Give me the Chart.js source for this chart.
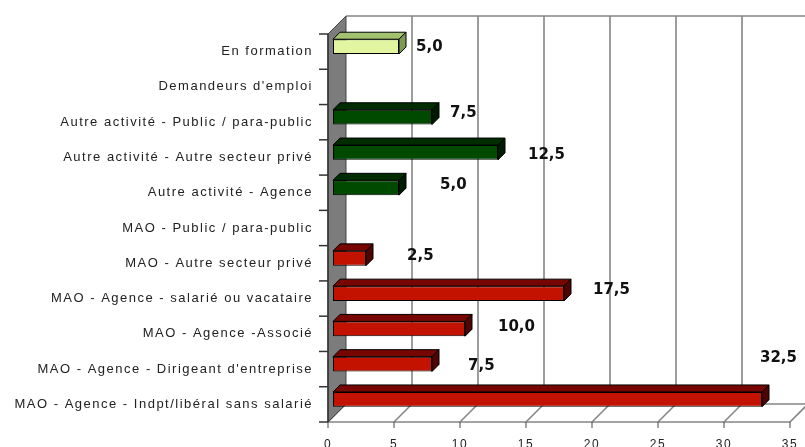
<!DOCTYPE html>
<html>
<head>
<meta charset="utf-8">
<script src="https://cdn.jsdelivr.net/npm/chart.js@4/dist/chart.umd.min.js"></script>
<style>
  html, body { margin: 0; padding: 0; background: #ffffff; }
  #wrap { width: 805px; height: 447px; position: relative; }
</style>
</head>
<body>
<div id="wrap"><canvas id="c" width="805" height="447"></canvas></div>
<script>
// ---------- data ----------
const categories = [
  "En formation",
  "Demandeurs d'emploi",
  "Autre activité - Public / para-public",
  "Autre activité - Autre secteur privé",
  "Autre activité - Agence",
  "MAO - Public / para-public",
  "MAO - Autre secteur privé",
  "MAO - Agence - salarié ou vacataire",
  "MAO - Agence -Associé",
  "MAO - Agence - Dirigeant d'entreprise",
  "MAO - Agence - Indpt/libéral sans salarié"
];
const values = [5.0, null, 7.5, 12.5, 5.0, null, 2.5, 17.5, 10.0, 7.5, 32.5];
const groups = ["formation", "autre", "autre", "autre", "autre", "mao", "mao", "mao", "mao", "mao", "mao"];
const xMin = 0, xMax = 35, xStep = 5;

// ---------- style ----------
const groupFront = { formation: "#e2f6a2", autre: "#004a00", mao: "#c41200" };
const groupTop   = { formation: "#a2c270", autre: "#002c00", mao: "#780600" };
const groupSide  = { formation: "#7c9a52", autre: "#001c00", mao: "#4e0400" };
// value label nudges (px) relative to bar end / bar centre
const labelNudge = [[17,0],[0,0],[18,-4],[30,3],[41,-3],[0,0],[41,-2],[29,-3],[33,-2],[36,2],[-2,-41]];
const FRONT = 5, BACK = 13, DEPTH = 7;

const fmt = v => v.toFixed(1).replace('.', ',');

const deco = {
  id: 'deco',
  beforeDraw(chart) {
    chart.ctx.letterSpacing = '1.5px';
  },
  beforeDatasetsDraw(chart) {
    const { ctx, chartArea: a, scales: { x } } = chart;
    const n = categories.length;
    ctx.save();
    ctx.letterSpacing = '0px';
    const fTop = a.top + FRONT, fBot = a.bottom + FRONT, fLeft = a.left - FRONT;
    const bTop = a.top - BACK, bBot = a.bottom - BACK, bLeft = a.left + BACK;
    const xEnd = x.getPixelForValue(xMax);

    ctx.strokeStyle = '#858585';
    ctx.lineWidth = 1.6;
    // back wall top border
    ctx.beginPath(); ctx.moveTo(bLeft, bTop); ctx.lineTo(chart.width, bTop); ctx.stroke();
    // gridlines on back wall + floor diagonals
    x.ticks.forEach(t => {
      const px = x.getPixelForValue(t.value);
      if (t.value > xMin) {
        ctx.beginPath(); ctx.moveTo(px + BACK, bTop); ctx.lineTo(px + BACK, bBot); ctx.stroke();
      }
      ctx.beginPath(); ctx.moveTo(px - FRONT, fBot); ctx.lineTo(px + BACK, bBot); ctx.stroke();
    });
    // floor edges
    ctx.beginPath(); ctx.moveTo(fLeft, fBot); ctx.lineTo(xEnd - FRONT, fBot); ctx.stroke();
    ctx.beginPath(); ctx.moveTo(bLeft, bBot); ctx.lineTo(xEnd + BACK, bBot); ctx.stroke();
    // bottom tick marks
    ctx.strokeStyle = '#444';
    ctx.lineWidth = 1;
    x.ticks.forEach(t => {
      const px = x.getPixelForValue(t.value) - FRONT;
      ctx.beginPath(); ctx.moveTo(px, fBot); ctx.lineTo(px, fBot + 6); ctx.stroke();
    });
    // left wall
    ctx.beginPath();
    ctx.moveTo(fLeft, fTop); ctx.lineTo(bLeft, bTop); ctx.lineTo(bLeft, bBot); ctx.lineTo(fLeft, fBot);
    ctx.closePath();
    ctx.fillStyle = '#7c7c7c'; ctx.fill();
    ctx.strokeStyle = '#444'; ctx.lineWidth = 1; ctx.stroke();
    // front axis line and category tick marks
    ctx.strokeStyle = '#333'; ctx.lineWidth = 1.5;
    ctx.beginPath(); ctx.moveTo(fLeft, fTop); ctx.lineTo(fLeft, fBot); ctx.stroke();
    for (let i = 0; i <= n; i++) {
      const y = fTop + i * (a.height / n);
      ctx.beginPath(); ctx.moveTo(fLeft - 9, y); ctx.lineTo(fLeft, y); ctx.stroke();
    }
    ctx.restore();
  },
  afterDatasetsDraw(chart) {
    const { ctx } = chart;
    const meta = chart.getDatasetMeta(0);
    ctx.save();
    ctx.letterSpacing = '0px';
    ctx.lineWidth = 1;
    ctx.strokeStyle = '#000';
    meta.data.forEach((el, i) => {
      const v = values[i];
      if (v === null || v === undefined) return;
      const x0 = el.base, x1 = el.x;
      const yT = el.y - el.height / 2, yB = el.y + el.height / 2;
      const g = groups[i];
      // top face
      ctx.beginPath();
      ctx.moveTo(x0, yT); ctx.lineTo(x0 + DEPTH, yT - DEPTH); ctx.lineTo(x1 + DEPTH, yT - DEPTH); ctx.lineTo(x1, yT);
      ctx.closePath(); ctx.fillStyle = groupTop[g]; ctx.fill(); ctx.stroke();
      // side face
      ctx.beginPath();
      ctx.moveTo(x1, yT); ctx.lineTo(x1 + DEPTH, yT - DEPTH); ctx.lineTo(x1 + DEPTH, yB - DEPTH); ctx.lineTo(x1, yB);
      ctx.closePath(); ctx.fillStyle = groupSide[g]; ctx.fill(); ctx.stroke();
    });
    // value labels
    ctx.font = 'bold 15px "DejaVu Sans"';
    ctx.fillStyle = '#111';
    ctx.textAlign = 'left';
    ctx.textBaseline = 'middle';
    meta.data.forEach((el, i) => {
      const v = values[i];
      if (v === null || v === undefined) return;
      const nd = labelNudge[i];
      ctx.fillText(fmt(v), el.x + nd[0], el.y + nd[1]);
    });
    ctx.restore();
  }
};

new Chart(document.getElementById('c'), {
  type: 'bar',
  data: {
    labels: categories,
    datasets: [{
      data: values,
      backgroundColor: groups.map(g => groupFront[g]),
      borderColor: '#000',
      borderWidth: 1,
      borderSkipped: false,
      categoryPercentage: 1.0,
      barPercentage: 0.42
    }]
  },
  options: {
    indexAxis: 'y',
    responsive: false,
    devicePixelRatio: 1,
    animation: false,
    layout: { padding: { top: 29, right: 10, left: 0, bottom: 0 } },
    plugins: { legend: { display: false }, tooltip: { enabled: false } },
    scales: {
      x: {
        min: xMin, max: xMax,
        grid: { display: false, drawTicks: false, tickLength: 0 },
        border: { display: false },
        ticks: {
          stepSize: xStep,
          padding: 20,
          labelOffset: -FRONT,
          color: '#222',
          font: { family: '"Liberation Sans", Arial', size: 12 },
          maxRotation: 0
        },
        afterFit(s) { s.height = 30; s.paddingLeft = 0; s.paddingRight = 0; }
      },
      y: {
        grid: { display: false, drawTicks: false, tickLength: 0 },
        border: { display: false },
        ticks: {
          autoSkip: false,
          padding: 20,
          labelOffset: FRONT,
          color: '#222',
          font: { family: '"Liberation Sans", Arial', size: 13 }
        },
        afterFit(s) { s.width = 333; s.paddingTop = 0; s.paddingBottom = 0; }
      }
    }
  },
  plugins: [deco]
});
</script>
</body>
</html>
